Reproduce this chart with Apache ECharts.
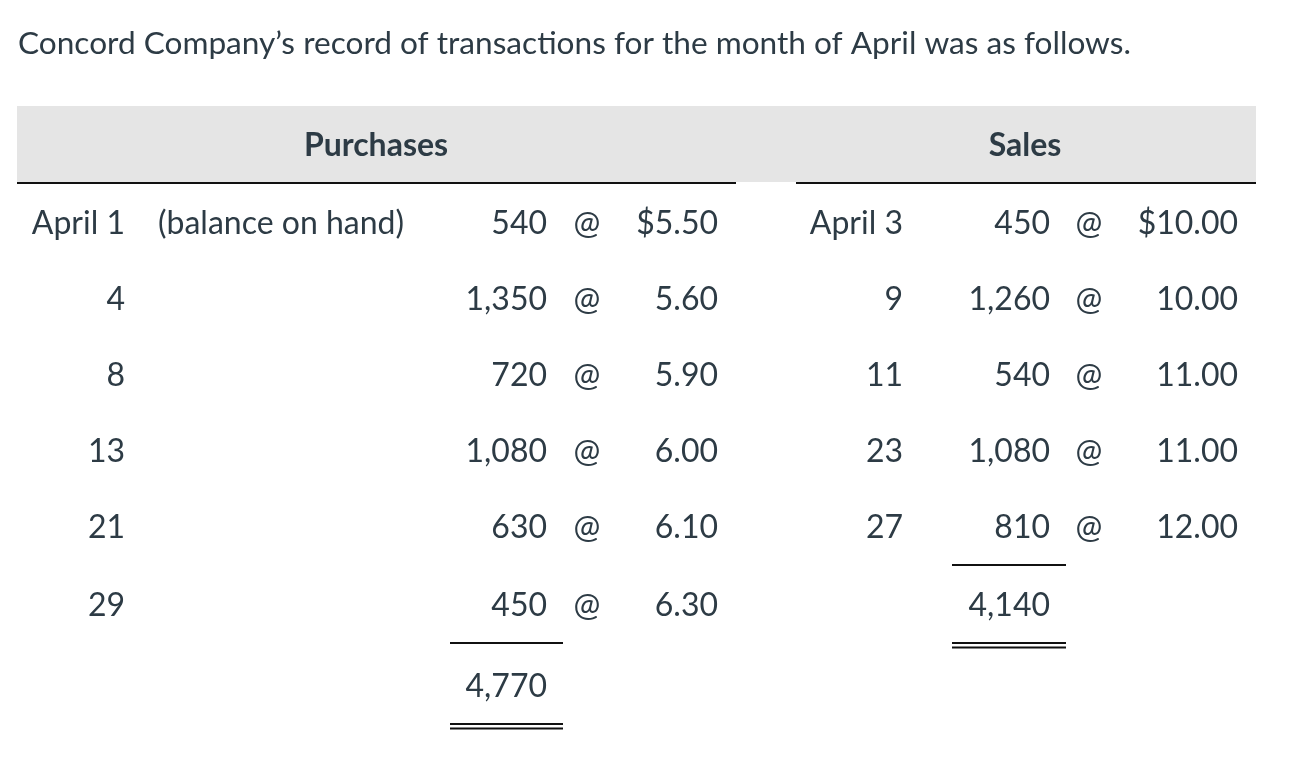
<!DOCTYPE html>
<html>
<head>
<meta charset="utf-8">
<script src="https://cdn.jsdelivr.net/npm/echarts@6/dist/echarts.min.js"></script>
<style>
html,body{margin:0;padding:0;background:#fff;}
#c{width:1304px;height:770px;}
</style>
</head>
<body>
<div id="c"></div>
<script>
var titleText = 'Concord Company\u2019s record of transactions for the month of April was as follows.';
var headers = ['Purchases', 'Sales'];
var purchaseDates = ['April 1', '4', '8', '13', '21', '29'];
var purchaseNotes = ['(balance on hand)', '', '', '', '', ''];
var purchaseUnits = [540, 1350, 720, 1080, 630, 450];
var purchaseCosts = [5.50, 5.60, 5.90, 6.00, 6.10, 6.30];
var purchaseTotal = 4770;
var saleDates = ['April 3', '9', '11', '23', '27'];
var saleUnits = [450, 1260, 540, 1080, 810];
var salePrices = [10.00, 10.00, 11.00, 11.00, 12.00];
var saleTotal = 4140;

function fmtInt(n){ return n.toString().replace(/\B(?=(\d{3})+(?!\d))/g, ','); }
function fmtMoney(v, first){ return (first ? '$' : '') + v.toFixed(2); }

var FONT = 'Lato, "Noto Sans", sans-serif';
var COLOR = '#2d3b45';
var rowY = function(i){ return 224 + i * 76; };

var items = [];
function txt(x, y, t, align, bold, size){ items.push({kind:'text', v:[x, y], t:t, align:align, bold:!!bold, size:size || 32}); }
function line(x1, y1, x2, y2, w){ items.push({kind:'line', v:[x1, y1, x2, y2], w:w}); }
function rect(x1, y1, x2, y2){ items.push({kind:'rect', v:[x1, y1, x2, y2]}); }

// header
rect(17, 106, 1256, 182);
txt(376, 146, headers[0], 'center', true);
txt(1025, 146, headers[1], 'center', true);
line(17, 183, 736, 183, 2);
line(796, 183, 1256, 183, 2);
// title
txt(18, 44, titleText, 'left', false, 31.6);

// purchases rows
purchaseDates.forEach(function(d, i){
  var y = rowY(i) + (i === 5 ? 2 : 0);
  txt(125, y, d, 'right');
  if (purchaseNotes[i]) txt(158, y, purchaseNotes[i], 'left');
  txt(547, y, fmtInt(purchaseUnits[i]), 'right');
  txt(587, y, '@', 'center');
  txt(718, y, fmtMoney(purchaseCosts[i], i === 0), 'right');
});
line(450, 643, 563, 643, 2);
txt(547, 687, fmtInt(purchaseTotal), 'right');
line(450, 724, 563, 724, 2);
line(450, 728.5, 563, 728.5, 2);

// sales rows
saleDates.forEach(function(d, i){
  var y = rowY(i);
  txt(903, y, d, 'right');
  txt(1050, y, fmtInt(saleUnits[i]), 'right');
  txt(1089, y, '@', 'center');
  txt(1238, y, fmtMoney(salePrices[i], i === 0), 'right');
});
line(952, 565, 1066, 565, 2);
txt(1050, 606, fmtInt(saleTotal), 'right');
line(952, 643, 1066, 643, 2);
line(952, 647.5, 1066, 647.5, 2);

var chart = echarts.init(document.getElementById('c'), null, {renderer:'canvas'});
chart.setOption({
  animation: false,
  backgroundColor: '#fff',
  grid: {left:0, right:0, top:0, bottom:0},
  xAxis: {type:'value', min:0, max:1304, show:false},
  yAxis: {type:'value', min:0, max:770, inverse:true, show:false},
  series: [{
    type: 'custom',
    coordinateSystem: 'cartesian2d',
    clip: false,
    silent: true,
    data: items.map(function(it){ return it.v; }),
    encode: {x:[0,2], y:[1,3]},
    renderItem: function(params, api){
      var it = items[params.dataIndex];
      if (it.kind === 'text'){
        var p = api.coord([api.value(0), api.value(1)]);
        return {type:'text', style:{x:p[0], y:p[1], text:it.t, fill:COLOR,
          font:(it.bold ? 'bold ' : '') + it.size + 'px ' + FONT, align:it.align, verticalAlign:'middle'}};
      }
      var a = api.coord([api.value(0), api.value(1)]);
      var b = api.coord([api.value(2), api.value(3)]);
      if (it.kind === 'rect'){
        return {type:'rect', shape:{x:a[0], y:a[1], width:b[0]-a[0], height:b[1]-a[1]}, style:{fill:'#e5e5e5'}};
      }
      return {type:'line', shape:{x1:a[0], y1:a[1], x2:b[0], y2:b[1]}, style:{stroke:'#111', lineWidth:it.w}};
    }
  }]
});
</script>
</body>
</html>
